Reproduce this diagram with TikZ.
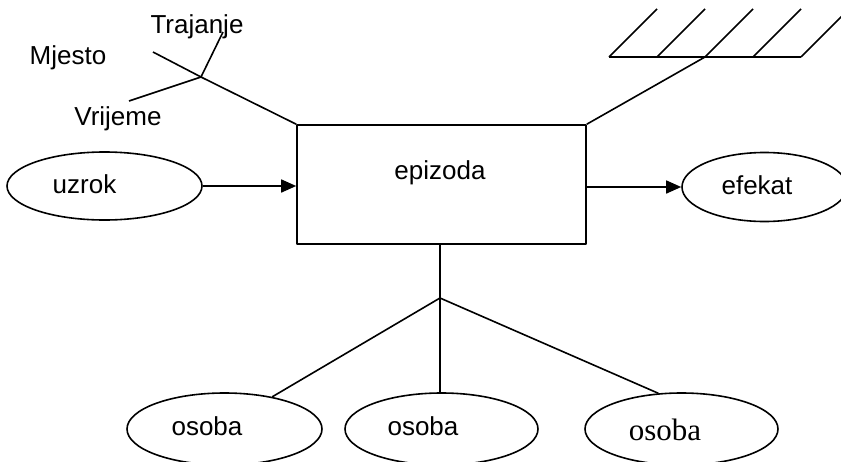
\documentclass[tikz,border=0pt]{standalone}
\usepackage{fontspec}
\setmainfont{Liberation Sans}
\newfontfamily\timesfont{Liberation Serif}
\usetikzlibrary{shapes.geometric,arrows.meta}
\tikzset{
	elipsa/.style={draw,ellipse,inner sep=0pt},
	kutija/.style={draw,rectangle,inner sep=0pt,minimum width=289pt,minimum height=119pt},
	natpis/.style={anchor=base,inner sep=0pt},
	strelica/.style={-{Triangle[length=15pt,width=13pt]}}
}
\begin{document}
\begin{tikzpicture}[x=1pt,y=-1pt,line width=1.6pt,line join=round,font=\fontsize{26}{31}\selectfont]
		\useasboundingbox (0,0) rectangle (841,461);
		\def \razmak{48};
		% epizoda
		\node[kutija] (epi) at (441.5,184.5) {};
		\node[natpis] (epitxt) at (440,179) {epizoda};
		% uzrok i efekat
		\node[elipsa,minimum width=195pt,minimum height=68pt] (uzrok) at (104.5,186) {};
		\node[natpis] (uzroktxt) at (84.5,193) {uzrok};
		\node[elipsa,minimum width=165pt,minimum height=69pt] (efekat) at (764.5,187) {};
		\node[natpis] (efekattxt) at (757,194) {efekat};
		\draw[strelica] (uzrok.east) -- (uzrok.east -| epi.west);
		\draw[strelica] (efekat.west -| epi.east) -- (efekat.west);
		% osobe
		\node[elipsa,minimum width=195pt,minimum height=72pt] (o1) at (224.5,429) {};
		\node[natpis] (o1txt) at (207,435) {osoba};
		\node[elipsa,minimum width=193pt,minimum height=72pt] (o2) at (441.5,429) {};
		\node[natpis] (o2txt) at (423,435) {osoba};
		\node[elipsa,minimum width=193pt,minimum height=72pt] (o3) at (681.5,429) {};
		\node[natpis,font=\timesfont\fontsize{31}{36}\selectfont] (o3txt) at (665,440) {osoba};
		\coordinate (spoj) at (440,298);
		\draw (epi.south -| spoj) -- (spoj);
		\draw (spoj) -- (o1.34);
		\draw (spoj) -- (o2.north -| spoj);
		\draw (spoj) -- (o3.123);
		% mjesto, trajanje, vrijeme
		\coordinate (mj) at (201,77);
		\coordinate (mjesto) at (153,52);
		\coordinate (trajanje) at (223,32);
		\coordinate (vrijeme) at (129,101);
		\draw (mjesto) -- (mj) -- (epi.north west);
		\draw (trajanje) -- (mj) -- (vrijeme);
		\node[natpis] (trajanjetxt) at (197,33) {Trajanje};
		\node[natpis] (mjestotxt) at (68,64) {Mjesto};
		\node[natpis] (vrijemetxt) at (118,125) {Vrijeme};
		% zid
		\coordinate (zid) at (705,57);
		\draw (609,57) -- (609+4*\razmak,57);
		\foreach \k in {0,...,4}
		\draw (609+\k*\razmak,57) -- (609+\k*\razmak+\razmak,9);
		\draw (epi.north east) -- (zid);
\end{tikzpicture}
\end{document}
